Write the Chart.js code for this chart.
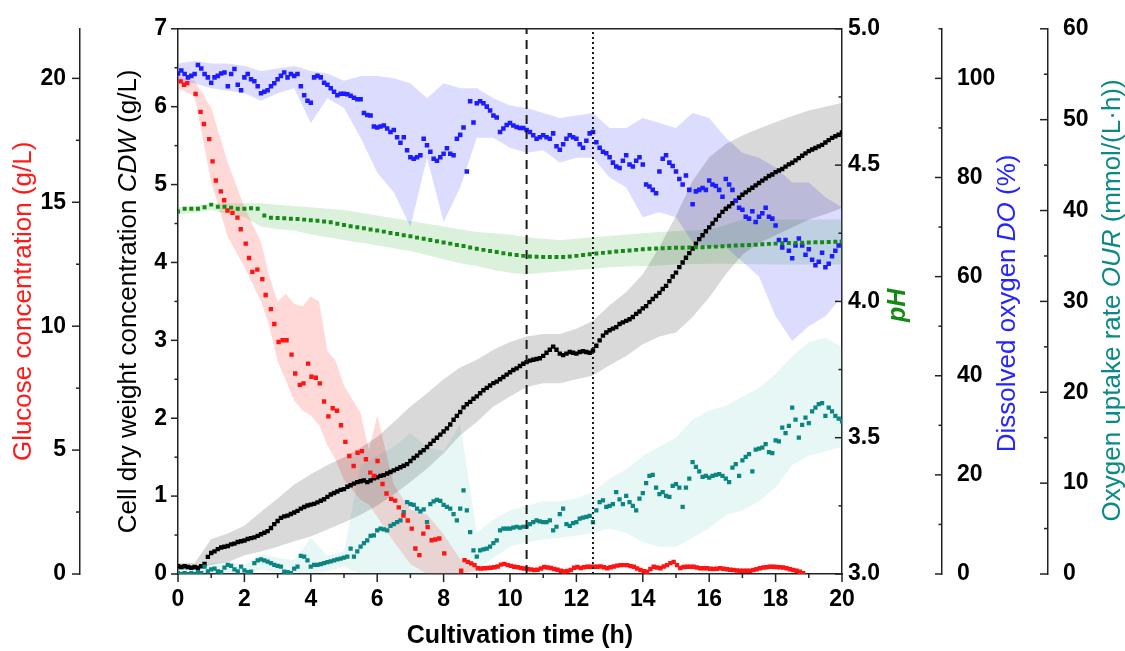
<!DOCTYPE html>
<html>
<head>
<meta charset="utf-8">
<script src="https://cdn.jsdelivr.net/npm/chart.js"></script>
<style>
  html, body { margin: 0; padding: 0; background: #fff; }
</style>
</head>
<body>
<canvas id="myChart" width="1125" height="651"></canvas>
<script>
// ---- data ----
// regular sampling: DO, CDW and OUR every 0.1 h from 0 h, pH every 0.2 h
const doStep = 0.1;
const doValues = [101.0,
  101.6,100.9,100.2,100.5,100.9,102.7,102.0,100.9,100.2,99.1,
  100.2,100.5,101.0,101.2,98.4,100.9,101.9,98.7,97.6,100.2,
  100.9,99.8,99.4,98.4,97.0,97.3,97.6,98.4,99.0,99.8,
  100.5,101.2,100.2,100.9,100.5,100.9,98.4,96.6,95.5,95.1,
  100.2,100.5,100.2,99.1,98.7,98.0,97.3,96.6,96.9,96.9,
  96.8,96.5,96.1,95.8,95.8,93.0,92.6,92.5,90.3,90.1,
  90.3,90.5,89.9,89.2,89.6,88.1,87.0,88.1,85.5,84.1,
  83.8,84.1,84.5,87.8,86.5,85.2,83.8,83.4,84.1,84.8,
  85.9,84.8,84.5,87.8,88.6,90.1,81.2,95.4,91.1,95.0,
  95.4,95.0,94.3,93.5,92.5,92.1,89.2,89.9,90.6,91.0,
  90.5,90.2,90.0,90.0,89.6,89.2,88.5,87.8,88.1,88.5,
  88.1,87.8,88.9,86.3,85.6,86.7,87.8,88.5,88.1,87.8,
  86.7,86.0,87.4,88.9,89.2,87.1,86.0,85.2,84.9,84.1,
  83.0,82.2,81.9,83.4,84.5,82.6,82.2,83.4,84.1,82.6,
  78.6,78.2,77.5,76.8,81.2,83.8,84.5,83.0,82.3,81.2,
  79.7,78.6,80.4,77.5,74.6,77.2,77.5,77.9,77.5,79.4,
  78.6,78.3,77.5,76.1,79.7,78.6,77.5,75.3,73.9,73.5,
  72.1,71.7,73.2,71.0,72.1,72.8,73.9,72.1,71.7,70.3,
  67.4,65.9,67.4,65.2,63.7,66.3,67.7,66.3,64.4,65.5,
  63.4,62.3,63.0,64.8,61.9,62.6,64.1,65.2,66.3,67.0];

const cdwStep = 0.1;
const cdwValues = [0.10,0.09,0.10,0.09,0.08,0.09,0.08,0.10,0.13,0.22,0.27,
  0.29,0.32,0.34,0.35,0.36,0.38,0.39,0.41,0.42,0.43,
  0.45,0.46,0.47,0.49,0.51,0.53,0.55,0.59,0.64,0.68,
  0.72,0.74,0.75,0.77,0.79,0.81,0.84,0.86,0.88,0.89,
  0.90,0.92,0.94,0.96,0.99,1.02,1.04,1.06,1.08,1.09,
  1.12,1.14,1.16,1.18,1.19,1.20,1.18,1.20,1.23,1.24,
  1.26,1.27,1.29,1.31,1.33,1.35,1.37,1.39,1.41,1.45,
  1.49,1.52,1.56,1.59,1.63,1.67,1.71,1.75,1.79,1.83,
  1.87,1.92,1.98,2.03,2.08,2.14,2.18,2.21,2.25,2.28,
  2.32,2.36,2.39,2.42,2.45,2.47,2.50,2.53,2.56,2.59,
  2.62,2.64,2.67,2.70,2.72,2.74,2.75,2.76,2.77,2.80,
  2.84,2.88,2.92,2.88,2.83,2.81,2.83,2.85,2.84,2.83,
  2.85,2.86,2.85,2.84,2.87,2.93,3.00,3.06,3.10,3.13,
  3.15,3.17,3.21,3.23,3.25,3.27,3.30,3.34,3.37,3.41,
  3.44,3.49,3.53,3.57,3.61,3.66,3.70,3.76,3.82,3.87,
  3.94,4.00,4.06,4.12,4.18,4.24,4.30,4.35,4.40,4.45,
  4.50,4.55,4.60,4.65,4.69,4.72,4.76,4.79,4.83,4.87,
  4.90,4.93,4.96,4.99,5.02,5.05,5.08,5.11,5.13,5.16,
  5.18,5.20,5.23,5.26,5.28,5.31,5.34,5.37,5.40,5.43,
  5.45,5.47,5.49,5.51,5.54,5.57,5.60,5.62,5.64,5.67];

const ourStep = 0.1;
const ourValues = [0.1,0.0,0.1,0.0,0.1,0.0,0.2,0.1,0.8,0.3,0.5,
  0.6,0.3,0.2,0.7,1.0,0.9,0.5,0.3,0.8,0.4,
  0.2,0.25,1.2,1.5,1.6,1.5,1.35,1.2,1.0,0.9,
  0.8,0.25,0.2,0.1,0.6,0.8,2.0,1.9,1.5,0.8,
  1.0,1.0,1.1,1.2,1.3,1.4,1.5,1.6,1.7,1.8,
  1.9,2.8,1.9,2.5,3.0,3.4,3.7,4.2,4.25,4.8,
  5.0,4.9,4.8,5.3,5.5,5.7,5.9,6.8,7.9,7.7,
  7.6,7.2,6.9,7.1,5.7,7.7,8.0,8.15,8.05,7.6,
  7.4,7.2,6.6,5.9,7.2,9.2,7.0,4.6,2.6,1.9,
  2.6,2.7,2.8,3.0,3.4,3.7,4.8,5.0,5.0,5.0,
  5.1,5.2,5.1,5.2,5.2,5.5,5.7,5.9,5.8,5.7,
  5.7,5.9,4.8,5.2,6.6,7.2,5.5,5.3,5.6,5.7,
  6.1,6.2,6.3,6.4,5.7,7.0,7.9,8.1,7.4,7.5,
  7.7,9.0,8.2,7.7,8.6,7.9,7.5,7.0,8.3,8.9,
  10.0,10.8,10.9,9.5,8.8,9.0,8.6,8.5,9.7,9.9,
  9.5,7.4,9.5,10.5,12.3,11.8,11.3,10.7,10.8,10.6,
  10.8,10.9,11.0,10.8,10.5,10.1,11.7,12.1,10.8,12.5,
  12.9,13.2,11.3,13.7,13.8,13.9,14.3,13.4,13.3,14.7,
  14.6,16.1,15.5,16.3,18.3,17.0,15.0,16.4,17.2,16.6,
  17.9,18.3,18.7,18.8,17.4,18.3,17.9,17.4,17.1,16.8];

const phStep = 0.2;
const phValues = [4.33,4.34,4.34,4.34,4.345,4.355,4.347,4.347,4.344,4.34,
  4.34,4.342,4.34,4.315,4.307,4.306,4.305,4.303,4.302,4.30,
  4.298,4.296,4.293,4.29,4.285,4.28,4.276,4.272,4.268,4.264,
  4.26,4.256,4.251,4.247,4.243,4.239,4.234,4.23,4.225,4.221,
  4.216,4.212,4.207,4.203,4.198,4.193,4.189,4.185,4.181,4.177,
  4.173,4.17,4.167,4.165,4.164,4.163,4.163,4.163,4.163,4.165,
  4.167,4.17,4.173,4.176,4.178,4.18,4.183,4.185,4.187,4.189,
  4.191,4.193,4.194,4.195,4.196,4.197,4.197,4.198,4.199,4.199,
  4.20,4.201,4.202,4.204,4.205,4.206,4.207,4.208,4.21,4.211,
  4.212,4.213,4.214,4.214,4.215,4.216,4.217,4.217,4.218,4.219,4.219];

const gluTime = [0.08,0.18,0.28,0.53,0.68,0.78,0.94,1.04,1.14,1.29,1.39,1.49,1.64,1.79,1.89,
  2.04,2.14,2.24,2.39,2.54,2.64,2.80,2.90,3.03,3.15,3.27,3.42,3.53,3.67,3.78,3.92,
  4.02,4.15,4.27,4.40,4.53,4.66,4.79,4.91,5.04,5.16,5.29,5.41,5.54,5.66,5.79,5.91,
  6.01,6.16,6.28,6.42,6.54,6.65,6.79,6.92,7.04,7.15,7.27,7.39,7.52,7.64,7.75,7.87,8.02,
  8.53,8.63,8.73,8.83,8.93,9.03,9.13,9.23,9.33,9.43,9.53,9.63,9.73,9.83,9.93,
  10.03,10.13,10.23,10.33,10.43,10.53,10.63,10.73,10.83,10.93,11.03,11.13,11.23,11.33,11.43,
  11.53,11.63,11.73,11.83,11.93,12.03,12.13,12.23,12.33,12.43,12.53,12.63,12.73,12.83,12.93,
  13.03,13.13,13.23,13.33,13.43,13.53,13.63,13.73,13.83,13.93,14.03,14.13,14.23,14.33,14.43,
  14.53,14.63,14.73,14.83,14.93,15.03,15.13,15.23,15.33,15.43,15.53,15.63,15.73,15.83,15.93,
  16.03,16.13,16.23,16.33,16.43,16.53,16.63,16.73,16.83,16.93,17.03,17.13,17.23,17.33,17.43,
  17.53,17.63,17.73,17.83,17.93,18.03,18.13,18.23,18.33,18.43,18.53,18.63,18.73,18.83];
const gluValues = [19.88,19.74,19.81,19.37,18.65,18.16,17.55,16.65,15.88,15.44,15.08,14.67,14.57,14.38,13.91,
  13.33,12.75,12.19,12.28,11.90,11.26,10.69,10.09,9.36,9.43,9.43,8.85,8.09,7.63,7.69,8.49,
  7.96,7.92,7.69,6.96,6.36,6.69,6.59,6.00,5.33,4.76,4.36,4.89,4.96,4.63,4.09,3.96,
  4.56,3.63,3.25,3.03,2.96,2.69,2.36,2.16,1.83,1.03,0.76,1.63,1.89,1.36,1.39,1.43,0.83,
  0.13,0.56,0.49,0.43,0.36,0.23,0.22,0.23,0.24,0.25,0.27,0.30,0.38,0.41,0.36,
  0.33,0.29,0.27,0.24,0.22,0.20,0.18,0.16,0.17,0.22,0.28,0.26,0.24,0.20,0.17,
  0.13,0.10,0.12,0.16,0.25,0.28,0.24,0.27,0.29,0.29,0.29,0.29,0.30,0.27,0.23,
  0.27,0.30,0.34,0.36,0.36,0.36,0.32,0.29,0.22,0.16,0.11,0.09,0.20,0.29,0.26,
  0.23,0.30,0.36,0.44,0.49,0.36,0.24,0.28,0.29,0.29,0.29,0.26,0.23,0.23,0.23,
  0.21,0.20,0.21,0.23,0.21,0.19,0.17,0.16,0.14,0.13,0.13,0.13,0.13,0.16,0.19,
  0.23,0.26,0.27,0.29,0.29,0.28,0.27,0.26,0.23,0.19,0.16,0.13,0.09,0.03];

// spread bands (replicate range), every 0.5 h
const bandTime = [0,0.5,1,1.5,2,2.5,3,3.5,4,4.5,5,5.5,6,6.5,7,7.5,8,8.5,9,9.5,10,
  10.5,11,11.5,12,12.5,13,13.5,14,14.5,15,15.5,16,16.5,17,17.5,18,18.5,19,19.5,20];
const cdwLow  = [0.05,0.05,0.12,0.15,0.24,0.29,0.35,0.42,0.48,0.57,0.66,0.76,0.88,1.02,1.18,1.35,1.55,1.78,1.95,2.15,2.28,
  2.40,2.45,2.45,2.50,2.55,2.68,2.80,2.95,3.05,3.10,3.30,3.55,3.85,4.10,4.25,4.35,4.45,4.55,4.62,4.70];
const cdwHigh = [0.14,0.14,0.45,0.52,0.62,0.80,0.97,1.15,1.28,1.40,1.50,1.62,1.76,1.95,2.15,2.32,2.50,2.65,2.75,2.88,2.98,
  3.05,3.08,3.08,3.15,3.25,3.45,3.62,3.85,4.20,4.60,5.05,5.35,5.52,5.63,5.72,5.80,5.88,5.95,6.00,6.05];
const doLow   = [99,99,98,97.5,97,95.5,97,98,91,96,94,88,81,77,70,84,71,78,88,88,86,
  85,85.5,83,84,84,80,78,72,73,72,67,66,66,63,60,52,47,50,52,56];
const doHigh  = [103,103.5,103,103,102.5,101.5,102,102.5,101.5,101,99.5,100.5,100.5,100,99,96,99,98,98,96,94.5,
  94,93,92,92.5,93,90,90,92,91,90,93,92,88,85,84,82,79,79,76,74];
const phLow   = [4.32,4.325,4.335,4.32,4.31,4.275,4.265,4.26,4.245,4.235,4.225,4.215,4.205,4.195,4.185,4.17,4.155,4.14,4.13,4.115,4.105,
  4.10,4.105,4.11,4.115,4.12,4.125,4.128,4.13,4.132,4.135,4.137,4.138,4.138,4.137,4.136,4.135,4.135,4.135,4.135,4.135];
const phHigh  = [4.345,4.35,4.36,4.36,4.36,4.36,4.355,4.35,4.345,4.34,4.335,4.325,4.315,4.305,4.295,4.285,4.275,4.265,4.255,4.25,4.245,
  4.235,4.23,4.225,4.23,4.235,4.24,4.245,4.25,4.255,4.258,4.26,4.262,4.28,4.30,4.30,4.30,4.30,4.30,4.30,4.30];
const ourLow  = [0,0,0,0,0,0.5,0.2,0,0,0.3,0.8,0,0,0,0,0,0,0,0.5,1.8,3.0,
  3.5,3.8,4.0,4.2,4.5,5.0,4.5,3.5,3.0,3.0,4.0,5.0,6.5,7.0,8.0,9.5,12.0,13.0,13.5,14.0];
const ourHigh = [0.5,0.6,1.2,1.3,1.0,2.2,1.8,1.5,4.0,2.0,2.5,12.0,13.0,14.0,15.5,14.0,13.5,16.5,4.5,6.0,7.0,
  7.5,8.0,8.0,8.3,9.0,10.5,11.5,13.0,14.0,15.0,17.0,18.0,18.5,19.5,20.5,22.0,24.0,25.5,26.0,25.0];
const gluBandTime = [0,0.5,1,1.5,2,2.5,2.75,3,3.25,3.5,3.75,4,4.25,4.5,4.75,5,5.5,5.75,6,6.5,7,7.5,8,8.5,9];
const gluLow  = [19.6,19.3,15.8,13.6,12.4,11.0,10.0,8.6,7.8,7.0,6.6,6.4,6.0,5.2,4.6,3.8,3.0,2.8,2.3,1.3,0.4,0.0,0.0,0.0,0.1];
const gluHigh = [20.1,19.9,18.8,16.6,14.8,13.4,12.0,11.0,11.3,10.9,10.8,11.2,11.0,9.0,8.6,7.6,6.5,5.0,6.4,3.6,2.6,2.4,1.6,0.6,0.45];

// phase markers (h)
const dashedTime = 10.5;
const dottedTime = 12.5;

// axis ticks
const xTickVals = [0,2,4,6,8,10,12,14,16,18,20];
const cdwTickVals = [0,1,2,3,4,5,6,7];
const gluTickVals = [0,5,10,15,20];
const phTickVals = [3.0,3.5,4.0,4.5,5.0];
const doTickVals = [0,20,40,60,80,100];
const ourTickVals = [0,10,20,30,40,50,60];

// ---- drawing ----
const family = "'Liberation Sans', Arial, sans-serif";
Chart.defaults.font.family = family;
const axisColor = '#222';
const tickFont = { family: family, size: 23, weight: 'bold' };

function pts(times, values) {
  return values.map((v, i) => ({ x: times[i], y: v }));
}
function sampled(step, values) {
  return values.map((v, i) => ({ x: Math.round(i * step * 100) / 100, y: v }));
}

function bandPair(times, low, high, axis, color) {
  return [
    { data: pts(times, low), yAxisID: axis, borderColor: 'transparent', borderWidth: 0,
      pointRadius: 0, fill: false, order: 20 },
    { data: pts(times, high), yAxisID: axis, borderColor: 'transparent', borderWidth: 0,
      pointRadius: 0, backgroundColor: color, fill: '-1', order: 20 }
  ];
}
function dots(data, axis, color, r, order) {
  return { data: data, yAxisID: axis, showLine: false, pointStyle: 'rect', pointRadius: r,
    pointBackgroundColor: color, pointBorderWidth: 0, borderColor: color, order: order };
}
function marker(t, dash) {
  return { data: [{ x: t, y: 0 }, { x: t, y: 7 }], yAxisID: 'yCdw', borderColor: '#1a1a1a',
    borderWidth: 2, borderDash: dash, pointRadius: 0, fill: false, order: 0 };
}

function fixedTicks(vals) {
  return function (s) { s.ticks = vals.map(v => ({ value: v })); };
}

function yAxis(pos, weight, min, max, vals, width, pad, cb) {
  return {
    type: 'linear', position: pos, weight: weight, min: min, max: max,
    afterBuildTicks: fixedTicks(vals),
    afterFit: function (s) { s.width = width; },
    grid: { display: false, drawTicks: false },
    border: { display: true, color: axisColor, width: 1.5 },
    ticks: { font: tickFont, color: '#000', padding: pad, callback: cb }
  };
}

// tick marks: direction -1 = left/up, +1 = right/down
const tickSpec = {
  x:    { minor: 1,    dir: 1,  len: 8 },
  yCdw: { minor: 0.5,  dir: -1, len: 7 },
  yGlu: { minor: 2.5,  dir: -1, len: 8 },
  yPh:  { minor: 0.25, dir: -1, len: 7 },
  yDo:  { minor: 10,   dir: -1, len: 7 },
  yOur: { minor: 5,    dir: -1, len: 8 }
};

function drawText(ctx, parts, cx, cy, size, color, vertical) {
  ctx.save();
  ctx.translate(cx, cy);
  if (vertical) ctx.rotate(-Math.PI / 2);
  ctx.fillStyle = color;
  ctx.textBaseline = 'middle';
  ctx.textAlign = 'left';
  const fonts = parts.map(p => (p.italic ? 'italic ' : '') + (p.bold ? 'bold ' : '') + size + 'px ' + family);
  let total = 0;
  parts.forEach((p, i) => { ctx.font = fonts[i]; total += ctx.measureText(p.t).width; });
  let x = -total / 2;
  parts.forEach((p, i) => {
    ctx.font = fonts[i];
    ctx.fillText(p.t, x, 0);
    x += ctx.measureText(p.t).width;
  });
  ctx.restore();
}

const decorPlugin = {
  id: 'decor',
  beforeDraw(chart) {
    const ctx = chart.ctx;
    ctx.save();
    ctx.fillStyle = '#fff';
    ctx.fillRect(0, 0, chart.width, chart.height);
    ctx.restore();
  },
  afterDraw(chart) {
    const ctx = chart.ctx;
    const area = chart.chartArea;
    ctx.save();
    ctx.strokeStyle = axisColor;
    ctx.lineWidth = 1.5;
    // top frame line
    ctx.beginPath();
    ctx.moveTo(area.left, area.top);
    ctx.lineTo(area.right, area.top);
    ctx.stroke();
    // major and minor tick marks
    Object.keys(tickSpec).forEach(id => {
      const s = chart.scales[id];
      const spec = tickSpec[id];
      const majors = s.ticks.map(t => t.value);
      const vals = [];
      for (let v = s.min; v <= s.max + 1e-9; v += spec.minor) vals.push(Math.round(v * 1000) / 1000);
      vals.forEach(v => {
        const isMajor = majors.some(m => Math.abs(m - v) < 1e-6);
        const len = isMajor ? spec.len : spec.len / 2;
        const p = s.getPixelForValue(v);
        ctx.beginPath();
        if (s.isHorizontal()) {
          ctx.moveTo(p, s.top);
          ctx.lineTo(p, s.top + spec.dir * len);
        } else {
          const ax = s.position === 'left' ? s.right : s.left;
          ctx.moveTo(ax, p);
          ctx.lineTo(ax + spec.dir * len, p);
        }
        ctx.stroke();
      });
    });
    ctx.restore();

    // axis titles
    const sc = chart.scales;
    const midY = (area.top + area.bottom) / 2;
    drawText(ctx, [{ t: 'Cultivation time (h)', bold: true }],
      (area.left + area.right) / 2 + 10, sc.x.top + 62, 25, '#000', false);
    drawText(ctx, [{ t: 'Glucose concentration (g/L)' }],
      sc.yGlu.right - 56, midY, 26, '#ff1a1a', true);
    drawText(ctx, [{ t: 'Cell dry weight concentration ' }, { t: 'CDW', italic: true }, { t: ' (g/L)' }],
      sc.yCdw.right - 49, midY, 26, '#000', true);
    drawText(ctx, [{ t: 'pH', italic: true, bold: true }],
      sc.yPh.left + 56, midY + 4, 25, '#138a13', true);
    drawText(ctx, [{ t: 'Dissolved oxygen ' }, { t: 'DO', italic: true }, { t: ' (%)' }],
      sc.yDo.left + 66, midY + 2, 26, '#2424ff', true);
    drawText(ctx, [{ t: 'Oxygen uptake rate ' }, { t: 'OUR', italic: true }, { t: ' (mmol/(L\u00b7h))' }],
      sc.yOur.left + 65, midY - 1, 26, '#0a8a84', true);
  }
};

const datasets = [
  marker(dashedTime, [9, 6]),
  marker(dottedTime, [2, 3]),
  dots(pts(gluTime, gluValues), 'yGlu', '#ff1414', 3.1, 1),
  dots(sampled(phStep, phValues), 'yPh', '#168a16', 2.8, 2),
  dots(sampled(doStep, doValues), 'yDo', '#1c1cff', 3.2, 3),
  dots(sampled(ourStep, ourValues), 'yOur', '#0a8582', 3.0, 4),
  dots(sampled(cdwStep, cdwValues), 'yCdw', '#000000', 3.1, 5)
].concat(
  bandPair(bandTime, cdwLow, cdwHigh, 'yCdw', 'rgba(0,0,0,0.15)'),
  bandPair(bandTime, doLow, doHigh, 'yDo', 'rgba(80,80,255,0.2)'),
  bandPair(bandTime, phLow, phHigh, 'yPh', 'rgba(40,170,40,0.16)'),
  bandPair(bandTime, ourLow, ourHigh, 'yOur', 'rgba(60,190,180,0.12)'),
  bandPair(gluBandTime, gluLow, gluHigh, 'yGlu', 'rgba(255,60,60,0.2)')
);

new Chart(document.getElementById('myChart').getContext('2d'), {
  type: 'line',
  data: { datasets: datasets },
  options: {
    responsive: false,
    animation: false,
    devicePixelRatio: 1,
    events: [],
    layout: { padding: { top: 24, left: 0, right: 0, bottom: 0 } },
    elements: { line: { tension: 0 } },
    plugins: {
      legend: { display: false },
      tooltip: { enabled: false },
      filler: { drawTime: 'beforeDatasetsDraw' }
    },
    scales: {
      x: {
        type: 'linear', position: 'bottom', min: 0, max: 20,
        afterBuildTicks: fixedTicks(xTickVals),
        afterFit: function (s) { s.height = 77; },
        grid: { display: false, drawTicks: false },
        border: { display: true, color: axisColor, width: 1.5 },
        ticks: { font: tickFont, color: '#000', padding: 12, maxRotation: 0, autoSkip: false }
      },
      yCdw: yAxis('left', 0, 0, 7, cdwTickVals, 98, 11),
      yGlu: yAxis('left', 1, 0, 22, gluTickVals, 80, 14),
      yPh: yAxis('right', 0, 3, 5, phTickVals, 100, 6, v => Number(v).toFixed(1)),
      yDo: yAxis('right', 1, 0, 110, doTickVals, 106, 15),
      yOur: yAxis('right', 2, 0, 60, ourTickVals, 77, 15)
    }
  },
  plugins: [decorPlugin]
});
</script>
</body>
</html>
